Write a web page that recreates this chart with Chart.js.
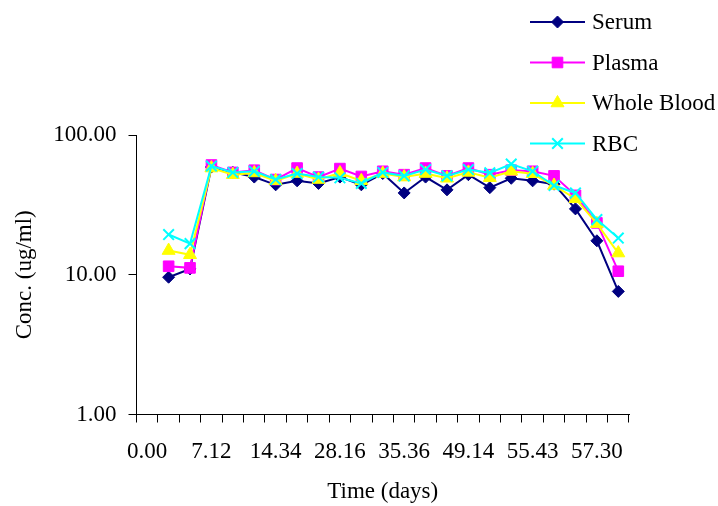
<!DOCTYPE html>
<html>
<head>
<meta charset="utf-8">
<script src="https://cdn.jsdelivr.net/npm/chart.js@4/dist/chart.umd.min.js"></script>
<style>
  body { margin: 0; background: #fff; }
  #wrap { width: 718px; height: 506px; }
</style>
</head>
<body>
<div id="wrap"><canvas id="concChart" width="718" height="506"></canvas></div>
<script>
// category labels (only every third one is printed on the original axis)
const days = ["0.00", "", "", "7.12", "", "", "14.34", "", "", "28.16", "", "",
  "35.36", "", "", "49.14", "", "", "55.43", "", "", "57.30", ""];

const serum = [null, 9.6, 11.0, 59, 54, 50, 44, 47, 45, 50, 44, 53, 38.5, 50, 40.5, 52, 42, 49, 47, 44.5, 29.6, 17.5, 7.6];
const plasma = [null, 11.5, 11.2, 61, 54, 56, 48, 58, 50, 57.5, 50.5, 55, 52, 58, 51, 58, 52, 56, 55, 51, 37, 23.5, 10.6];
const wholeBlood = [null, 14.9, 13.9, 58, 52, 53.5, 47, 53, 48, 53.5, 47, 53, 50, 53, 49, 54, 49.5, 55, 52.8, 43.5, 35, 23.2, 14.3];
const rbc = [null, 19.4, 16.7, 60, 54, 55, 48, 53, 50, 49.4, 45, 54, 51, 56.6, 51, 56.6, 53.6, 62, 55, 43.5, 38.5, 24.8, 18.3];

const yTicks = [1, 10, 100];

const FONT = "'Liberation Serif', 'Times New Roman', serif";
const SIZE = 23;

function series(label, data, color, style, radius, order) {
  return {
    label: label,
    data: data,
    borderColor: color,
    backgroundColor: color,
    borderWidth: 2,
    pointStyle: style,
    pointRadius: radius,
    pointHoverRadius: radius,
    pointBorderColor: color,
    pointBackgroundColor: color,
    pointBorderWidth: style === "crossRot" ? 2 : 1,
    tension: 0,
    order: order,
  };
}

// legend drawn by hand so it can sit over the top right corner like the original
const sideLegend = {
  id: "sideLegend",
  afterDraw(chart) {
    const ctx = chart.ctx;
    ctx.save();
    chart.data.datasets.forEach((ds, i) => {
      const y = 22 + i * 40.5;
      ctx.strokeStyle = ds.borderColor;
      ctx.lineWidth = 2;
      ctx.beginPath();
      ctx.moveTo(530, y);
      ctx.lineTo(585, y);
      ctx.stroke();
      ctx.fillStyle = ds.borderColor;
      ctx.lineWidth = ds.pointBorderWidth;
      Chart.helpers.drawPoint(ctx, {
        pointStyle: ds.pointStyle,
        radius: ds.pointRadius,
        rotation: 0,
        borderWidth: ds.pointBorderWidth,
      }, 557.5, y);
      ctx.fillStyle = "#000";
      ctx.font = SIZE + "px " + FONT;
      ctx.textAlign = "left";
      ctx.textBaseline = "middle";
      ctx.fillText(ds.label, 592, y + 1);
    });
    ctx.restore();
  },
};

new Chart(document.getElementById("concChart").getContext("2d"), {
  type: "line",
  data: {
    labels: days,
    datasets: [
      series("Serum", serum, "#000080", "rectRot", 6, 3),
      series("Plasma", plasma, "#ff00ff", "rect", 7.5, 2),
      series("Whole Blood", wholeBlood, "#ffff00", "triangle", 7.5, 1),
      series("RBC", rbc, "#00ffff", "crossRot", 7.5, 0),
    ],
  },
  options: {
    responsive: false,
    animation: false,
    devicePixelRatio: 1,
    layout: { padding: { top: 135, right: 89, left: 0, bottom: 0 } },
    plugins: {
      legend: { display: false },
      tooltip: { enabled: false },
    },
    scales: {
      x: {
        type: "category",
        offset: true,
        afterFit: (scale) => { scale.height = 91.5; },
        grid: {
          offset: true,
          drawOnChartArea: false,
          drawTicks: true,
          tickLength: 8,
          color: "#000",
        },
        border: { display: true, color: "#000", width: 1 },
        ticks: {
          autoSkip: false,
          maxRotation: 0,
          padding: 16,
          color: "#000",
          font: { family: FONT, size: SIZE },
        },
        title: {
          display: true,
          text: "Time (days)",
          color: "#000",
          padding: { top: 0, bottom: 0 },
          font: { family: FONT, size: SIZE },
        },
      },
      y: {
        type: "logarithmic",
        min: 1,
        max: 100,
        afterFit: (scale) => { scale.width = 136.5; },
        afterBuildTicks: (scale) => { scale.ticks = yTicks.map((v) => ({ value: v })); },
        grid: {
          drawOnChartArea: false,
          drawTicks: true,
          tickLength: 8,
          color: "#000",
        },
        border: { display: true, color: "#000", width: 1 },
        ticks: {
          padding: 12,
          color: "#000",
          font: { family: FONT, size: SIZE },
          callback: (v) => Number(v).toFixed(2),
        },
        title: {
          display: true,
          text: "Conc. (ug/ml)",
          color: "#000",
          padding: { top: 11, bottom: 0 },
          font: { family: FONT, size: SIZE },
        },
      },
    },
  },
  plugins: [sideLegend],
});
</script>
</body>
</html>
